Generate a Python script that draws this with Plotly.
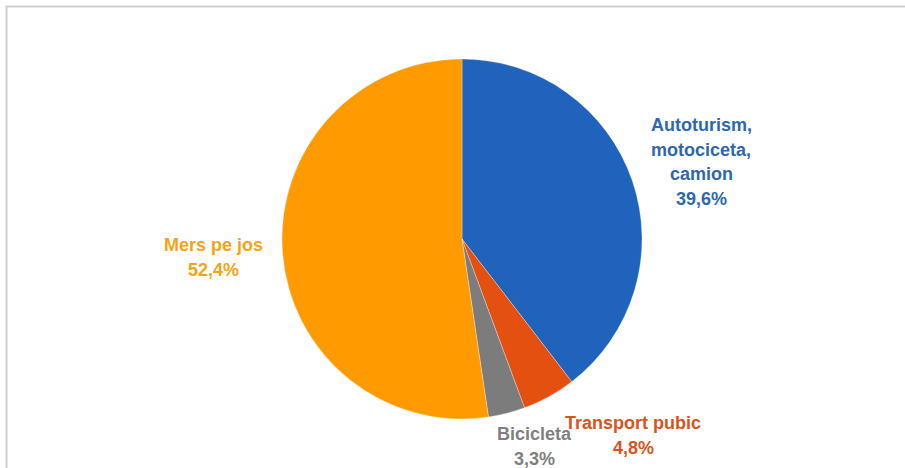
import plotly.graph_objects as go

# Modal split of trips (share, %)
categories = ["Autoturism, motociceta, camion", "Transport pubic", "Bicicleta", "Mers pe jos"]
label_lines = [["Autoturism,", "motociceta,", "camion"], ["Transport pubic"], ["Bicicleta"], ["Mers pe jos"]]
shares = [39.6, 4.8, 3.3, 52.4]
slice_colors = ["#1F63BD", "#E4500F", "#7C7C7C", "#FF9A00"]
text_colors = ["#2D68AE", "#D9541C", "#7F7F7F", "#F2A516"]

W, H = 905, 468

fig = go.Figure(
    go.Pie(
        labels=categories,
        values=shares,
        sort=False,
        direction="clockwise",
        rotation=0,
        marker=dict(colors=slice_colors, line=dict(color="rgba(255,255,255,0.6)", width=0.5)),
        textinfo="none",
        hoverinfo="label+percent",
        showlegend=False,
        domain=dict(x=[282 / W, 642 / W], y=[1 - 419 / H, 1 - 59 / H]),
    )
)

# Label anchors (pixel centre of the first text line) for each category
anchors = [(701, 125), (633, 423), (534, 434), (213, 245)]
line_gap = 24.5

annotations = []
for lines, val, col, (ax, ay) in zip(label_lines, shares, text_colors, anchors):
    rows = lines + [f"{val:.1f}".replace(".", ",") + "%"]
    for i, row in enumerate(rows):
        annotations.append(
            dict(
                text=f"<b>{row}</b>",
                x=ax / W,
                y=1 - (ay + i * line_gap) / H,
                xref="paper",
                yref="paper",
                xanchor="center",
                yanchor="middle",
                showarrow=False,
                font=dict(family="Liberation Sans, Arial, sans-serif", size=18, color=col),
            )
        )

# Thin frame on the top and left edges
shapes = [
    dict(type="line", xref="paper", yref="paper", x0=6 / W, x1=1, y0=1 - 6.5 / H, y1=1 - 6.5 / H,
         line=dict(color="#D0D0D0", width=2)),
    dict(type="line", xref="paper", yref="paper", x0=6.5 / W, x1=6.5 / W, y0=0, y1=1 - 6 / H,
         line=dict(color="#D0D0D0", width=2)),
]

fig.update_layout(
    width=W,
    height=H,
    margin=dict(l=0, r=0, t=0, b=0),
    paper_bgcolor="white",
    plot_bgcolor="white",
    annotations=annotations,
    shapes=shapes,
)

fig.write_html("out.html")
